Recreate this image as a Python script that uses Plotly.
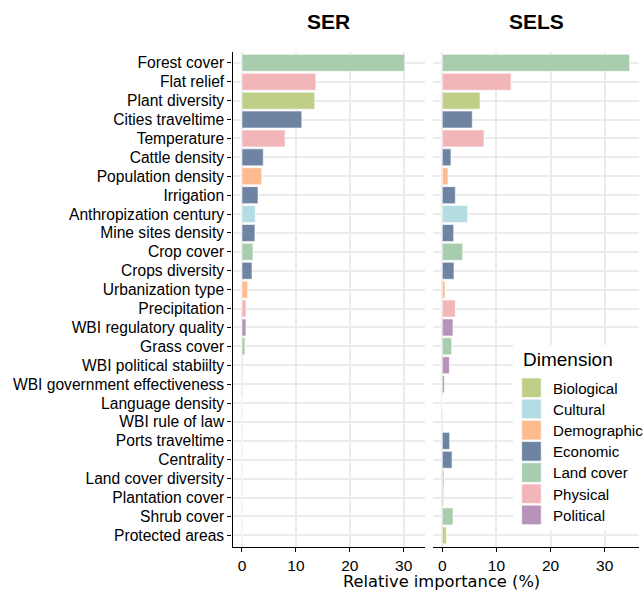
import plotly.graph_objects as go

# ---------------- data ----------------
variables = [
    "Forest cover", "Flat relief", "Plant diversity", "Cities traveltime", "Temperature",
    "Cattle density", "Population density", "Irrigation", "Anthropization century",
    "Mine sites density", "Crop cover", "Crops diversity", "Urbanization type",
    "Precipitation", "WBI regulatory quality", "Grass cover", "WBI political stabiilty",
    "WBI government effectiveness", "Language density", "WBI rule of law",
    "Ports traveltime", "Centrality", "Land cover diversity", "Plantation cover",
    "Shrub cover", "Protected areas",
]
dimensions = [
    "Land cover", "Physical", "Biological", "Economic", "Physical",
    "Economic", "Demographic", "Economic", "Cultural",
    "Economic", "Land cover", "Economic", "Demographic",
    "Physical", "Political", "Land cover", "Political",
    "Political", "Cultural", "Political",
    "Economic", "Economic", "Land cover", "Land cover",
    "Land cover", "Biological",
]
ser_values = [
    30.2, 13.7, 13.5, 11.1, 8.0,
    3.95, 3.65, 2.97, 2.47,
    2.4, 2.04, 1.86, 1.05,
    0.74, 0.74, 0.56, 0.12,
    0.1, 0.0, 0.0,
    0.0, 0.0, 0.0, 0.0,
    0.0, 0.0,
]
sels_values = [
    34.6, 12.7, 6.96, 5.54, 7.7,
    1.6, 1.05, 2.4, 4.68,
    2.1, 3.76, 2.16, 0.5,
    2.4, 1.97, 1.73, 1.3,
    0.37, 0.0, 0.1,
    1.36, 1.8, 0.3, 0.25,
    1.98, 0.74,
]
dim_order = ["Biological", "Cultural", "Demographic", "Economic", "Land cover", "Physical", "Political"]
dim_colors = ["#bfcf88", "#b3dce3", "#fdbb8f", "#6f84a2", "#a8cdae", "#f2b6b8", "#b792bb"]
panels = ["SER", "SELS"]
x_ticks = [0, 10, 20, 30]

# ---------------- layout helpers ----------------
W, H = 644, 591
def px(x):
    return x / W
def py(y):
    return 1 - y / H

FONT = "Liberation Sans, Arial, sans-serif"
GRID = "#ebebeb"

fig = go.Figure()
for pi, vals in enumerate([ser_values, sels_values]):
    xa = "x" if pi == 0 else "x2"
    ya = "y" if pi == 0 else "y2"
    for d, c in zip(dim_order, dim_colors):
        ys = [v for v, dd in zip(variables, dimensions) if dd == d]
        xs = [val for val, dd in zip(vals, dimensions) if dd == d]
        fig.add_trace(go.Bar(
            y=ys, x=xs, orientation="h", width=0.9, name=d, showlegend=False,
            marker=dict(color=c, line=dict(color="rgba(255,255,255,0.6)", width=1)),
            xaxis=xa, yaxis=ya,
        ))

ydom = [py(546.7), py(51.5)]
common_x = dict(
    tickvals=x_ticks, ticks="outside", ticklen=4, tickwidth=1.2, tickcolor="black",
    showline=True, linecolor="black", linewidth=1.4, showgrid=True,
    gridcolor=GRID, gridwidth=1.6, zeroline=False,
    tickfont=dict(family=FONT, size=15.5, color="black"),
)
common_y = dict(
    type="category", categoryorder="array", categoryarray=variables,
    tickmode="array", tickvals=variables, ticktext=variables,
    range=[25.6, -0.6], domain=ydom, showgrid=True, gridcolor=GRID,
    gridwidth=1.6, zeroline=False,
)

fig.update_layout(
    width=W, height=H, margin=dict(l=0, r=0, t=0, b=0),
    paper_bgcolor="white", plot_bgcolor="white", barmode="overlay",
    font=dict(family=FONT, color="black"),
    xaxis=dict(domain=[px(232.5), px(425)], range=[-1.76, 33.95], anchor="y", **common_x),
    xaxis2=dict(domain=[px(433), px(639)], range=[-1.72, 36.33], anchor="y2", **common_x),
    yaxis=dict(anchor="x", ticks="outside", ticklen=4, tickwidth=1.2, tickcolor="black",
               showline=True, linecolor="black", linewidth=1.4,
               tickfont=dict(family=FONT, size=15.6, color="black"), **common_y),
    yaxis2=dict(anchor="x2", matches="y", showticklabels=False, ticks="", showline=False,
                **common_y),
)

annotations = []
# facet titles
for name, (a, b) in zip(panels, [(232.5, 425), (433, 639)]):
    annotations.append(dict(text="<b>" + name + "</b>", x=px((a + b) / 2), y=py(22),
                            xref="paper", yref="paper", showarrow=False,
                            xanchor="center", yanchor="middle",
                            font=dict(family=FONT, size=21, color="black")))
# x axis title
annotations.append(dict(text="Relative importance (%)", x=px(441), y=py(581),
                        xref="paper", yref="paper", showarrow=False,
                        xanchor="center", yanchor="middle",
                        font=dict(family="DejaVu Sans, sans-serif", size=16.3, color="black")))

# legend (drawn manually to match ggplot key sizes)
shapes = [dict(type="rect", xref="paper", yref="paper", x0=px(513), x1=px(644),
               y0=py(531), y1=py(345), fillcolor="white", line=dict(width=0), layer="above")]
annotations.append(dict(text="Dimension", x=px(521), y=py(359), xref="paper", yref="paper",
                        showarrow=False, xanchor="left", yanchor="middle",
                        font=dict(family=FONT, size=19, color="black")))
for i, (d, c) in enumerate(zip(dim_order, dim_colors)):
    top = 378 + i * 21.2
    shapes.append(dict(type="rect", xref="paper", yref="paper", x0=px(521.7), x1=px(541.2),
                       y0=py(top + 19.5), y1=py(top), fillcolor=c,
                       line=dict(color="rgba(255,255,255,0.6)", width=1), layer="above"))
    annotations.append(dict(text=d, x=px(551.2), y=py(top + 10), xref="paper", yref="paper",
                            showarrow=False, xanchor="left", yanchor="middle",
                            font=dict(family=FONT, size=15.1, color="black")))

fig.update_layout(shapes=shapes, annotations=annotations)
fig.write_html("out.html", config={"displayModeBar": False})

# remove the default body margin so the figure sits at the window's top-left corner
with open("out.html", "r", encoding="utf-8") as f:
    html = f.read()
html = html.replace("<head>", "<head><style>html,body{margin:0;padding:0;overflow:hidden;}</style>", 1)
with open("out.html", "w", encoding="utf-8") as f:
    f.write(html)
